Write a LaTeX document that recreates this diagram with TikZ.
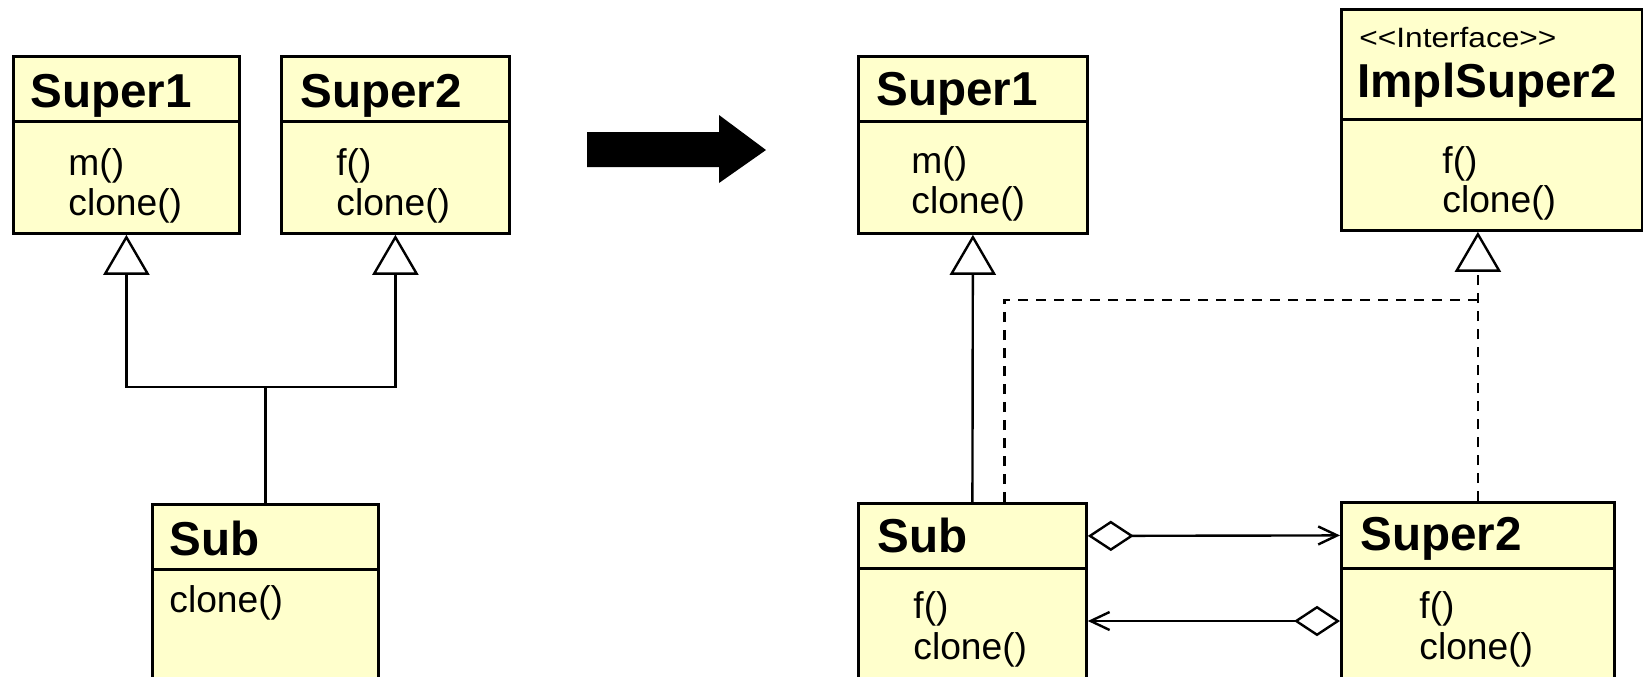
\documentclass[tikz,border=0pt]{standalone}
\usepackage{fontspec}
\setmainfont{Liberation Sans}
\newfontfamily\stereofont{Liberation Sans}
\usetikzlibrary{arrows.meta, calc}
\definecolor{umlyellow}{HTML}{FFFFCC}
\tikzset{
  comp/.style={draw=black, fill=umlyellow, line width=1.4pt, inner sep=0pt, anchor=north west},
  ttl/.style={font=\bfseries\fontsize{23.8pt}{27pt}\selectfont, inner sep=0pt, anchor=base west},
  op/.style={font=\fontsize{18.6pt}{20pt}\selectfont, inner sep=0pt, anchor=base west},
  stereo/.style={font=\stereofont\fontsize{14pt}{16pt}\selectfont, inner sep=0pt, anchor=base west},
  con/.style={line width=1.2pt},
  gen/.style={con, -{Triangle[length=20pt, width=23pt, fill=white]}},
  realiz/.style={gen, dash pattern=on 5pt off 4pt},
  dashline/.style={con, dash pattern=on 5pt off 4pt},
  agg/.style={con, {Diamond[length=23pt, width'=0pt 0.66, fill=white]}-{Straight Barb[length=9.5pt, width=9pt]}},
}

\begin{document}
\begin{tikzpicture}[x=0.5pt, y=-0.5pt]
  \useasboundingbox (0,0) rectangle (1643,676);
  \clip (0,0) rectangle (1643,676);
  % class compartments: name/x/y/width/height (px)
  \foreach \nm/\x/\y/\w/\h in {s1h/12/55/226/65, s1b/12/120/226/112,
      s2h/280/55/228/65, s2b/280/120/228/112,
      subh/151/503/226/65, subb/151/568/226/140,
      r1h/857/55/229/65, r1b/857/120/229/112,
      ifh/1340/8/301/110, ifb/1340/118/301/111,
      rsubh/857/502/228/65, rsubb/857/567/228/140,
      r2h/1340/501/273/66, r2b/1340/567/273/140} {
    \node[comp, minimum width=\w*0.5pt, minimum height=\h*0.5pt] (\nm) at (\x,\y) {};
  }
  % class names
  \foreach \nm/\x/\y/\txt in {tl1/30/107/Super1, tl2/300/107/Super2, tlsub/169/555/Sub,
      tr1/876/105/Super1, tif/1357/97/ImplSuper2, trsub/877/552/Sub, tr2/1360/550/Super2} {
    \node[ttl] (\nm) at (\x,\y) {\txt};
  }
  \node[stereo] (tst) at (1359,47) {\scalebox{1.13}[1]{<<Interface>>}};
  % operations
  \foreach \nm/\x/\y/\txt in {ol1a/68/175/m(), ol1b/68/215/clone(),
      ol2a/336/175/f(), ol2b/336/215/clone(), olsb/169/612/clone(),
      or1a/911/173/m(), or1b/911/213/clone(),
      oifa/1442/173/f(), oifb/1442/212/clone(),
      orsa/913/618/f(), orsb/913/659/clone(),
      or2a/1419/618/f(), or2b/1419/659/clone()} {
    \node[op] (\nm) at (\x,\y) {\txt};
  }

  % before: multiple inheritance
  \coordinate (jn) at (subh.north |- 0,387);
  \draw[con] (subh.north) -- (jn);
  \draw[gen] (jn) -| (s1b.south);
  \draw[gen] (jn) -| (s2b.south);

  % big arrow
  \fill (587,132) -- (719,132) -- (719,115) -- (766,150) -- (719,183) -- (719,167) -- (587,167) -- cycle;

  % after: inheritance + interface + delegation
  \draw[gen] (rsubh.north) -- (r1b.south);
  \draw[realiz] (r2h.north) -- (r2h.north |- ifb.south);
  \coordinate (dk) at ([xshift=16pt]rsubh.north);
  \coordinate (dc) at (r2h.north |- 0,300);
  \draw[dashline] (dk) |- (dc);
  \draw[agg] (rsubh.east) -- (r2h.west);
  \coordinate (a2s) at (r2b.west |- 0,621);
  \coordinate (a2e) at (rsubb.east |- 0,621);
  \draw[agg] (a2s) -- (a2e);
\end{tikzpicture}
\end{document}
